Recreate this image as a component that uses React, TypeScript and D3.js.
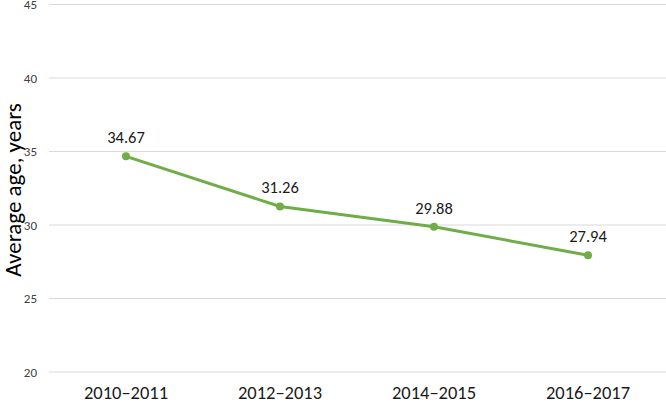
import React from "react";
import * as d3 from "d3";

const categories = ["2010–2011", "2012–2013", "2014–2015", "2016–2017"];
const values = [34.67, 31.26, 29.88, 27.94];
const yTicks = [20, 25, 30, 35, 40, 45];

const W = 666;
const H = 404;
const FONT = "Carlito, Calibri, Lato, 'Open Sans', sans-serif";

export default function App() {
  const x = d3.scaleBand<string>().domain(categories).range([49, 665]);
  const y = d3.scaleLinear().domain([20, 45]).range([372, 4.5]);
  const cx = (c: string) => (x(c) ?? 0) + x.bandwidth() / 2;
  const line = d3
    .line<number>()
    .x((_, i) => cx(categories[i]))
    .y((d) => y(d));

  return (
    <svg
      width={W}
      height={H}
      style={{ position: "absolute", left: 0, top: 0, background: "#fff" }}
      fontFamily={FONT}
    >
      {yTicks.map((t) => (
        <g key={t}>
          <line x1={49} x2={666} y1={y(t)} y2={y(t)} stroke="#d9d9d9" strokeWidth={1} />
          <text x={37} y={y(t)} dy="0.35em" textAnchor="end" fontSize={13} fill="#404040">
            {t}
          </text>
        </g>
      ))}
      {categories.map((c) => (
        <text key={c} x={cx(c)} y={399} textAnchor="middle" fontSize={18.5} fill="#1a1a1a">
          {c}
        </text>
      ))}
      <text
        transform={`translate(21,190) rotate(-90)`}
        textAnchor="middle"
        fontSize={23}
        fill="#000"
      >
        Average age, years
      </text>
      <path d={line(values) ?? ""} fill="none" stroke="#70ad47" strokeWidth={3} strokeLinejoin="round" />
      {values.map((v, i) => (
        <g key={i}>
          <circle cx={cx(categories[i])} cy={y(v)} r={4} fill="#70ad47" />
          <text x={cx(categories[i])} y={y(v) - 13} textAnchor="middle" fontSize={16.5} fill="#1a1a1a">
            {v.toFixed(2)}
          </text>
        </g>
      ))}
    </svg>
  );
}
